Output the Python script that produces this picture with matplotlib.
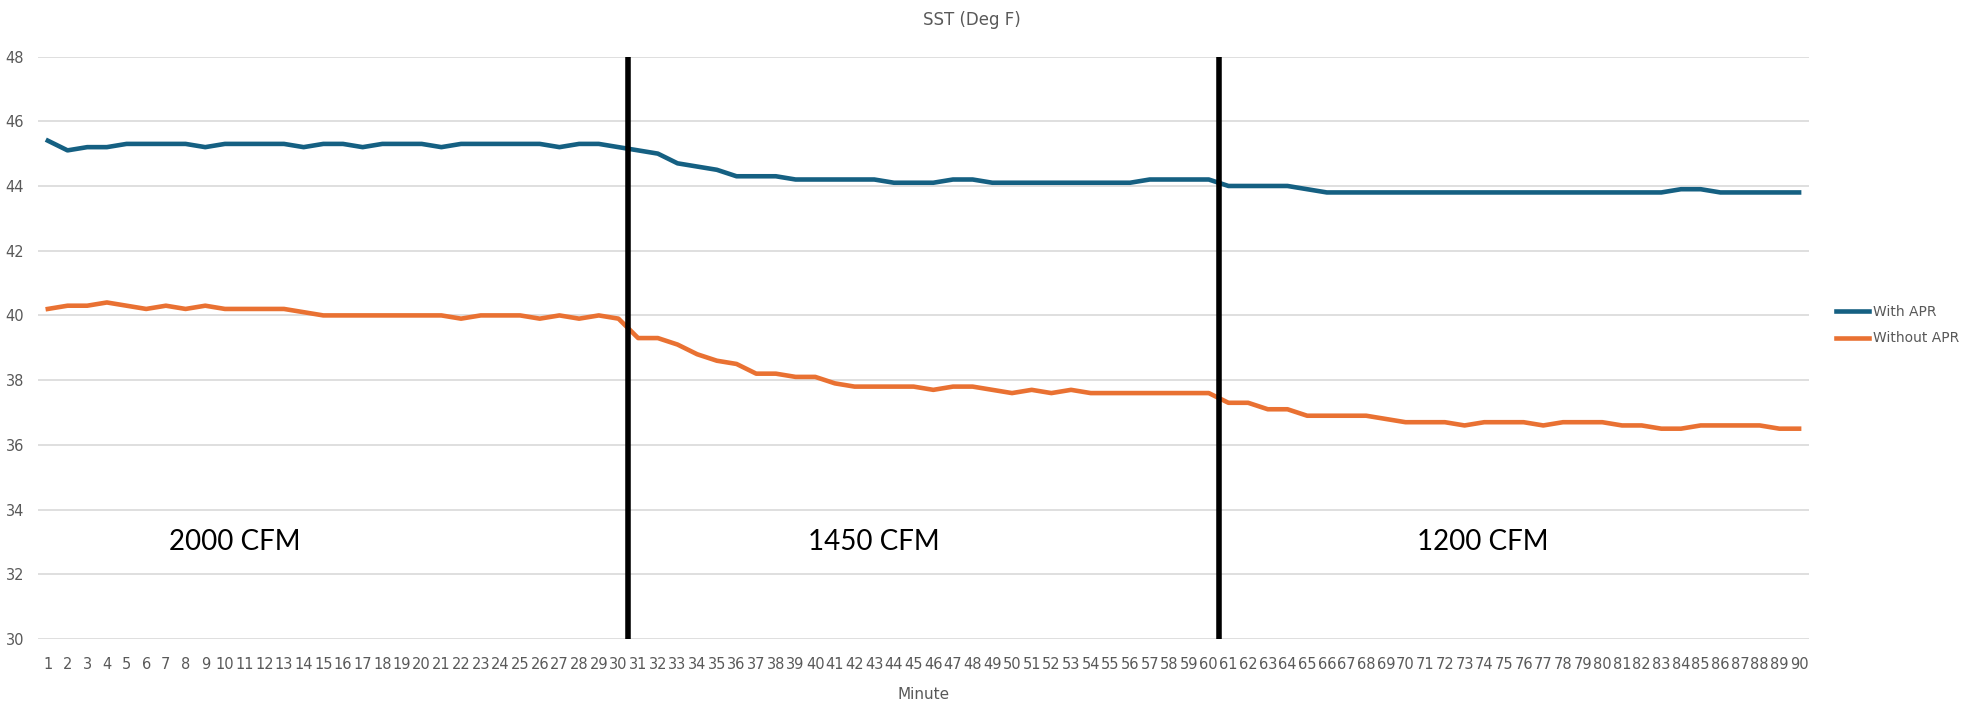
import matplotlib
matplotlib.use('Agg')
import matplotlib.pyplot as plt
import numpy as np

# Data
minutes = list(range(1, 91))
with_apr = [
    45.4, 45.1, 45.2, 45.2, 45.3, 45.3, 45.3, 45.3, 45.2, 45.3,
    45.3, 45.3, 45.3, 45.2, 45.3, 45.3, 45.2, 45.3, 45.3, 45.3,
    45.2, 45.3, 45.3, 45.3, 45.3, 45.3, 45.2, 45.3, 45.3, 45.2,
    45.1, 45.0, 44.7, 44.6, 44.5, 44.3, 44.3, 44.3, 44.2, 44.2,
    44.2, 44.2, 44.2, 44.1, 44.1, 44.1, 44.2, 44.2, 44.1, 44.1,
    44.1, 44.1, 44.1, 44.1, 44.1, 44.1, 44.2, 44.2, 44.2, 44.2,
    44.0, 44.0, 44.0, 44.0, 43.9, 43.8, 43.8, 43.8, 43.8, 43.8,
    43.8, 43.8, 43.8, 43.8, 43.8, 43.8, 43.8, 43.8, 43.8, 43.8,
    43.8, 43.8, 43.8, 43.9, 43.9, 43.8, 43.8, 43.8, 43.8, 43.8,
]
without_apr = [
    40.2, 40.3, 40.3, 40.4, 40.3, 40.2, 40.3, 40.2, 40.3, 40.2,
    40.2, 40.2, 40.2, 40.1, 40.0, 40.0, 40.0, 40.0, 40.0, 40.0,
    40.0, 39.9, 40.0, 40.0, 40.0, 39.9, 40.0, 39.9, 40.0, 39.9,
    39.3, 39.3, 39.1, 38.8, 38.6, 38.5, 38.2, 38.2, 38.1, 38.1,
    37.9, 37.8, 37.8, 37.8, 37.8, 37.7, 37.8, 37.8, 37.7, 37.6,
    37.7, 37.6, 37.7, 37.6, 37.6, 37.6, 37.6, 37.6, 37.6, 37.6,
    37.3, 37.3, 37.1, 37.1, 36.9, 36.9, 36.9, 36.9, 36.8, 36.7,
    36.7, 36.7, 36.6, 36.7, 36.7, 36.7, 36.6, 36.7, 36.7, 36.7,
    36.6, 36.6, 36.5, 36.5, 36.6, 36.6, 36.6, 36.6, 36.5, 36.5,
]
y_ticks = [30, 32, 34, 36, 38, 40, 42, 44, 46, 48]
phase_breaks = [30.5, 60.5]
phase_labels = ['2000 CFM', '1450 CFM', '1200 CFM']
phase_label_x = [10.5, 43.0, 73.9]

# Style
BLUE = '#156082'
ORANGE = '#E97132'
GRID = '#D9D9D9'
TEXT = '#595959'
NARROW = ['Liberation Sans Narrow', 'DejaVu Sans']

fig = plt.figure(figsize=(19.69, 7.04), dpi=100)
fig.patch.set_facecolor('white')
ax = fig.add_axes([0.0193, 0.0923, 0.8994, 0.8274])

ax.plot(minutes, with_apr, color=BLUE, linewidth=3.3, label='With APR', solid_joinstyle='round')
ax.plot(minutes, without_apr, color=ORANGE, linewidth=3.3, label='Without APR', solid_joinstyle='round')

ax.vlines(phase_breaks, 30, 48, colors='black', linewidth=4, zorder=3)

for x, lab in zip(phase_label_x, phase_labels):
    ax.text(x, 33.0, lab, ha='center', va='center', fontsize=20, color='black', family=['Lato', 'DejaVu Sans'])

ax.set_xlim(0.5, 90.5)
ax.set_ylim(30, 48)
ax.set_yticks(y_ticks)
ax.set_xticks(minutes)
ax.set_xticklabels([str(m) for m in minutes], fontsize=10.5, color=TEXT, family=NARROW)
ax.set_yticklabels([str(v) for v in y_ticks], fontsize=10.5, color=TEXT, family=NARROW)
ax.tick_params(axis='both', length=0)
ax.tick_params(axis='x', pad=13)
ax.tick_params(axis='y', pad=10)
ax.grid(axis='y', color=GRID, linewidth=1.2)
ax.set_axisbelow(True)
for s in ax.spines.values():
    s.set_visible(False)

ax.set_xlabel('Minute', fontsize=11, color=TEXT, family=NARROW, labelpad=11)
fig.text(0.4937, 0.971, 'SST (Deg F)', ha='center', va='center', fontsize=12, color=TEXT, family=NARROW)

fig.legend(loc='center left', bbox_to_anchor=(0.926, 0.538), frameon=False,
           prop={'family': NARROW, 'size': 10}, handlelength=2.4, handletextpad=0.3,
           labelcolor=TEXT, labelspacing=0.9)

fig.savefig('out.png', dpi=100, facecolor='white')
